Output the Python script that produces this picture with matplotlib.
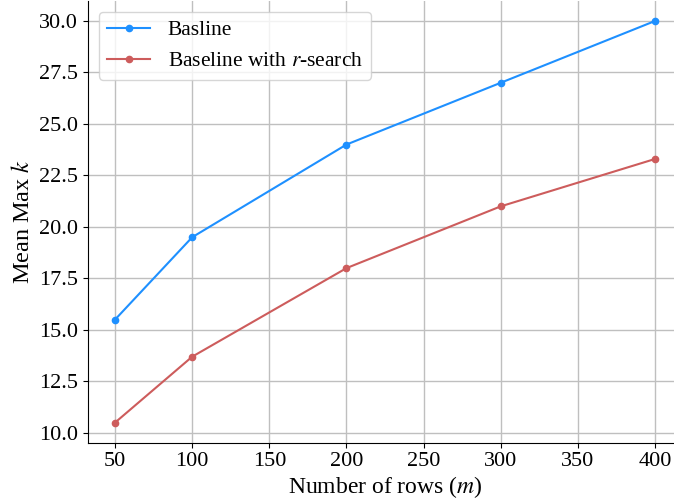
import numpy as np
import matplotlib
matplotlib.use("Agg")
import matplotlib.pyplot as plt

# data
rows = [50, 100, 200, 300, 400]
baseline = [15.5, 19.5, 24.0, 27.0, 30.0]
baseline_rsearch = [10.5, 13.7, 18.0, 21.0, 23.3]

plt.rcParams['font.family'] = ['Liberation Serif', 'DejaVu Serif']
plt.rcParams['mathtext.fontset'] = 'stix'

fig = plt.figure(figsize=(6.74, 5.01), dpi=100)
ax = fig.add_axes([0.1306, 0.1164, 0.8813, 0.8818])

ax.plot(rows, baseline, color='#1E90FF', marker='o', markersize=4.5,
        linewidth=1.5, label='Basline')
ax.plot(rows, baseline_rsearch, color='#CD5C5C', marker='o', markersize=4.5,
        linewidth=1.5, label='Baseline with $r$-search')

ax.set_xlabel('Number of rows ($m$)', fontsize=17, labelpad=2)
ax.set_ylabel('Mean Max $k$', fontsize=17.5)
ax.set_xticks(np.arange(50, 401, 50))
ax.set_yticks(np.arange(10, 30.1, 2.5))
ax.tick_params(labelsize=16)
ax.grid(True, color='#bfbfbf', linewidth=1)
ax.set_axisbelow(True)
ax.spines['top'].set_visible(False)
ax.spines['right'].set_visible(False)
ax.legend(loc='upper left', fontsize=15.5)

fig.savefig('out.png', dpi=100)
